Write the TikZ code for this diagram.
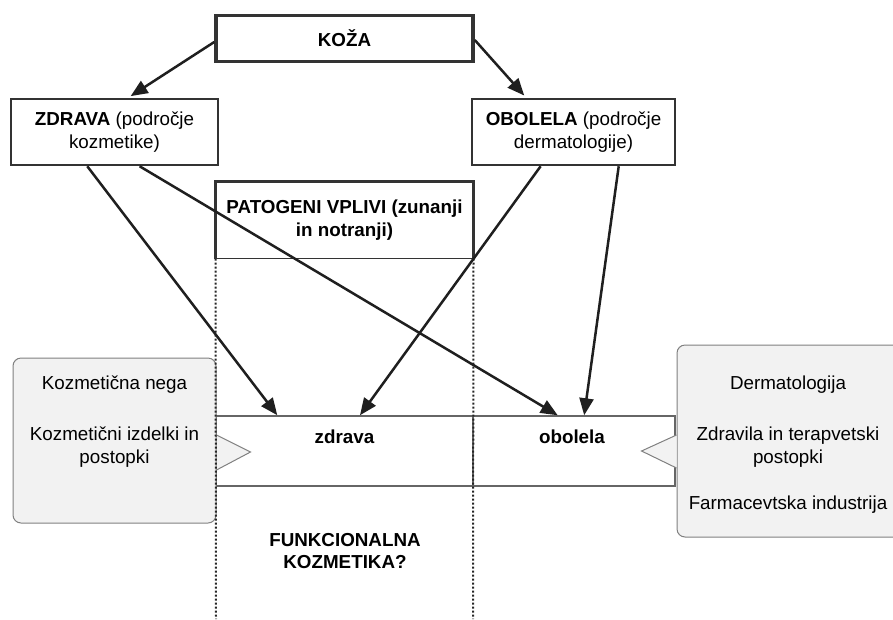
\documentclass[tikz,border=0pt]{standalone}
\usepackage{fontspec}
\setmainfont{Liberation Sans}
\usetikzlibrary{arrows.meta,calc}

\begin{document}
\begin{tikzpicture}[x=1pt,y=-1pt,
  every node/.style={font=\fontsize{18.8}{22.5}\selectfont, inner sep=0pt, align=center},
  box/.style={draw=black!80, line width=2.5pt},
  cell/.style={draw=black!60, line width=1.5pt, minimum height=70pt},
  callout/.style={draw=black!50, line width=1pt, fill=black!5, rounded corners=8pt},
  pointer/.style={draw=black!50, line width=1pt, fill=black!5},
  arr/.style={draw=black!88, line width=2.5pt, -{Triangle[length=17pt,width=14pt]}},
  guide/.style={black!85, line width=2pt, dash pattern=on 2pt off 2pt}]
\useasboundingbox (0,0) rectangle (893,619);
\clip (0,0) rectangle (893,619);

\node[box, line width=3.5pt, minimum width=257pt, minimum height=46pt] (koza) at (344.5,38.5) {\textbf{KOŽA}};
\node[box, minimum width=207pt, minimum height=66pt] (zdrava) at (114.5,132) {\textbf{ZDRAVA} (področje\\kozmetike)};
\node[box, minimum width=203pt, minimum height=66pt] (obolela) at (573.5,132) {\textbf{OBOLELA} (področje\\dermatologije)};
\node[draw=black!80, line width=1pt, minimum width=257pt, minimum height=76pt] (patogeni) at (344.5,220) {\textbf{PATOGENI VPLIVI (zunanji}\\\textbf{in notranji)}};
\draw[black!80, line width=2.5pt] (patogeni.south west) -- (patogeni.north west) -- (patogeni.north east) -- (patogeni.south east);

\node[cell, minimum width=257pt] (zcell) at (344.5,451) {};
\node[cell, minimum width=202pt] (ocell) at (574,451) {};
\node (zlab) at (344.5,437) {\textbf{zdrava}};
\node (olab) at (572,437) {\textbf{obolela}};

\node[callout, minimum width=203pt, minimum height=165pt] (care) at (114.5,440.5) {};
\path[pointer] ($(care.east)+(0,-5.5)$) -- ($(care.east)+(34,11.5)$) -- ($(care.east)+(0,29.5)$);
\node (caretxt) at (114.5,421.5) {Kozmetična nega\\[29pt]Kozmetični izdelki in\\postopki};

\node[callout, minimum width=228pt, minimum height=192pt] (derm) at (791,441) {};
\path[pointer] ($(derm.west)+(0,-6)$) -- ($(derm.west)+(-35,10)$) -- ($(derm.west)+(0,27)$);
\node (dermtxt) at (788,444.5) {Dermatologija\\[29pt]Zdravila in terapvetski\\postopki\\[24pt]Farmacevtska industrija};

\node (funk) at (345,551) {\textbf{FUNKCIONALNA}\\\textbf{KOZMETIKA?}};

\coordinate (gl) at (216,619);
\coordinate (gr) at (473,619);
\draw[guide] (patogeni.south west) -- (gl);
\draw[guide] (patogeni.south east) -- (gr);

\draw[arr, shorten >=3pt] ([yshift=-3.5pt]koza.west) -- ($(zdrava.north west)!0.565!(zdrava.north east)$);
\draw[arr, shorten >=3pt] ([yshift=-1.5pt]koza.east) -- ($(obolela.north west)!0.27!(obolela.north east)$);
\foreach \s/\a/\t/\b in {zdrava/0.37/zcell/0.24, zdrava/0.62/ocell/0.42, obolela/0.34/zcell/0.56, obolela/0.72/ocell/0.55}
  \draw[arr] ($(\s.south west)!\a!(\s.south east)$) -- ($(\t.north west)!\b!(\t.north east)$);
\end{tikzpicture}
\end{document}
